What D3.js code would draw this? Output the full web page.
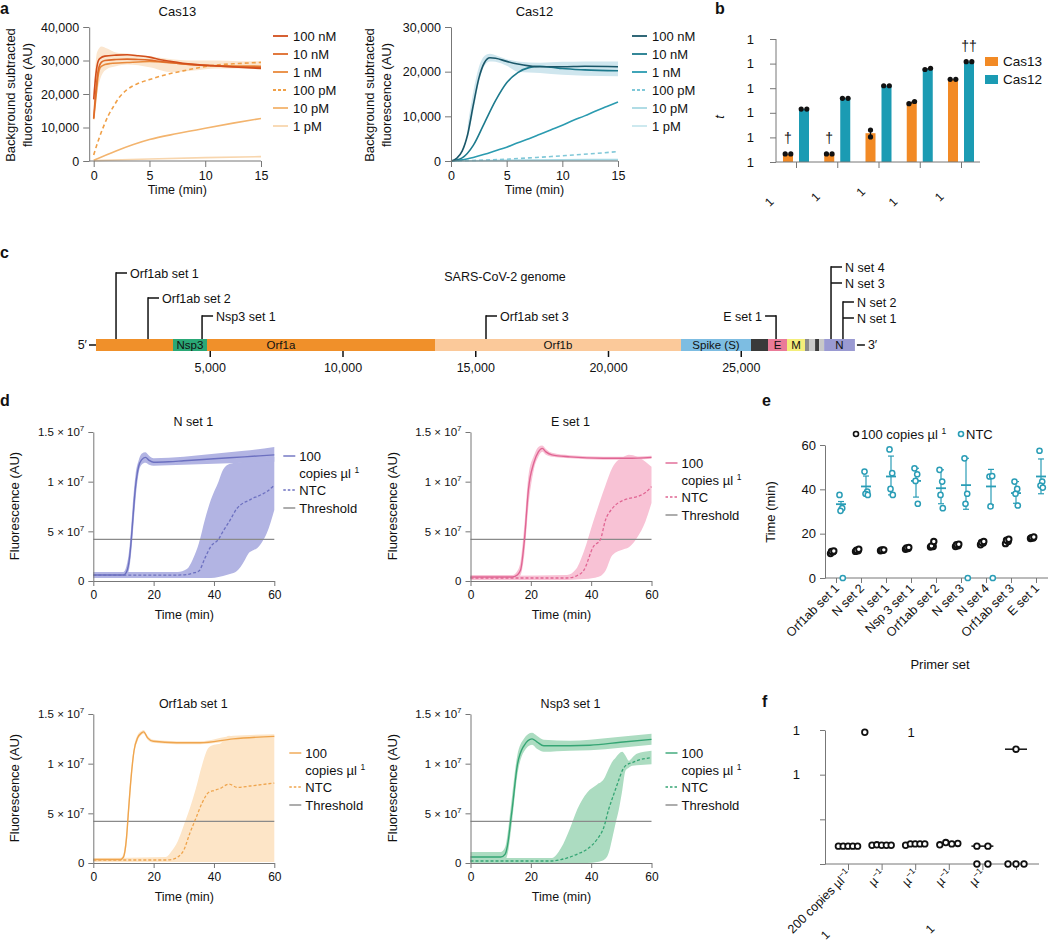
<!DOCTYPE html>
<html>
<head>
<meta charset="utf-8">
<script src="https://cdn.jsdelivr.net/npm/d3@7"></script>
<style>
  body { margin: 0; background: #fff; }
  svg text { font-family: "Liberation Sans", Arial, Helvetica, sans-serif; fill: #111; }
</style>
</head>
<body>
<svg id="fig" width="1050" height="945"></svg>
<script>
// ---------------- data ----------------
// panel a
const concLabels = ['100 nM', '10 nM', '1 nM', '100 pM', '10 pM', '1 pM']
const concDashed = [false, false, false, true, false, false]
const cas13Colors = ['#d24e1c', '#de6a2a', '#e98a3c', '#f0a048', '#f3b46e', '#f8d6ae']
const cas12Colors = ['#1a5769', '#1d7a8d', '#2b9bb0', '#80c8d8', '#a8d8e3', '#c8e7ee']

const cas13_100nM = [[0, 18400], [0.2, 26000], [0.4, 29800], [0.6, 30700], [1, 31300], [2, 31600], [3, 31700], [4, 31400], [5, 31000], [6, 30200], [7, 29700], [8, 29200], [9.5, 28700], [11, 28400], [13, 28000], [15, 27650]]
const cas13_10nM = [[0, 12800], [0.2, 21000], [0.4, 27000], [0.7, 29500], [1, 30000], [2, 30300], [3, 30400], [4, 30300], [5, 30100], [6, 29700], [8, 29000], [10, 28500], [12, 28200], [15, 28000]]
const cas13_1nM = [[0, 12500], [0.2, 19000], [0.4, 25500], [0.6, 28000], [1, 28800], [1.5, 29100], [3, 29400], [5, 29700], [6, 29600], [8, 29000], [10, 28600], [12, 28400], [15, 28300]]
const cas13_100pM = [[0, 1800], [0.4, 6000], [0.87, 10200], [1.3, 13500], [1.76, 16200], [2.3, 19000], [2.96, 21200], [4, 23200], [5.1, 24400], [6.5, 25800], [8, 26900], [9.5, 27900], [11, 28650], [13, 29100], [15, 29450]]
const cas13_10pM = [[0, 200], [2, 3000], [5, 6400], [7.5, 8200], [10, 9800], [12.5, 11300], [15, 12700]]
const cas13_1pM = [[0, 100], [5, 600], [10, 1000], [15, 1300]]
const cas13Band = [[0, 12000, 20000], [0.3, 20000, 32500], [0.7, 25500, 34200], [1.2, 27500, 33600], [2, 28300, 32400], [3, 28800, 32100], [5, 28000, 31300], [7, 26500, 30400], [9, 27000, 30000], [11, 27600, 30000], [13, 27600, 29800], [15, 27400, 29800]]

const cas12_100nM = [[0, 0], [0.5, 600], [1, 2200], [1.5, 6000], [2, 12500], [2.5, 18500], [3, 22000], [3.5, 23100], [4, 23000], [5, 22300], [6, 21700], [7, 21300], [8, 21100], [10, 21100], [12, 21200], [15, 21100]]
const cas12_10nM = [[0, 0], [1, 700], [2, 3500], [3, 8500], [4, 13500], [5, 17500], [6, 19800], [7, 20900], [8, 21200], [9, 21000], [10, 20700], [12, 20400], [15, 20200]]
const cas12_1nM = [[0, 0], [1, 250], [2, 800], [3, 1500], [4, 2300], [5, 3100], [6, 4100], [7, 5000], [8, 6000], [9, 7000], [10, 8000], [11, 9100], [12, 10100], [13, 11200], [14, 12200], [15, 13200]]
const cas12_100pM = [[0, 0], [3, 200], [5, 400], [7, 700], [9, 1000], [11, 1350], [13, 1700], [15, 2100]]
const cas12_10pM = [[0, 0], [5, 150], [10, 250], [15, 350]]
const cas12_1pM = [[0, 0], [15, 150]]
const cas12Band = [[1.5, 5000, 8000], [2, 11000, 15500], [2.5, 17500, 21000], [3, 21300, 23500], [3.5, 22300, 24000], [4, 22200, 23700], [5, 21300, 22800], [6, 20000, 22300], [8, 19700, 22000], [10, 19300, 22200], [12, 19100, 22300], [15, 19000, 22300]]

// panel b (log units)
const bYTicks = [0, 1, 2, 3, 4, 5]
const bCas13 = [0.33, 0.33, 1.17, 2.42, 3.36]
const bCas12 = [2.15, 2.59, 3.1, 3.78, 4.08]
const bCas13Reps = [[0.33, 0.33], [0.33, 0.33], [1.3, 1.02], [2.37, 2.46], [3.36, 3.36]]
const bCas12Reps = [[2.15, 2.15], [2.59, 2.59], [3.1, 3.1], [3.76, 3.81], [4.08, 4.08]]
const bDaggers = [['†', 0, 0], ['†', 1, 0], ['††', 4, 1]]

// panel c (nt)
const genomeTicks = [5000, 10000, 15000, 20000, 25000]
const genomeSegs = [
  ['', 715, 3616, '#f0902a'], ['Nsp3', 3616, 4896, '#2aa876'], ['', 4896, 13484, '#f0902a'],
  ['Orf1b', 13484, 22750, '#fbc99a'], ['Spike (S)', 22750, 25386, '#7dbde2'], ['', 25386, 26026, '#3a3a3a'],
  ['E', 26026, 26742, '#ea7b98'], ['M', 26742, 27420, '#f4ee7a'], ['', 27420, 27570, '#8a8a8a'],
  ['', 27570, 27800, '#c8c8c8'], ['', 27800, 27950, '#3a3a3a'], ['', 27950, 28140, '#c8c8c8'],
  ['N', 28140, 29300, '#9a9ad2']
]
const orf1aLabelAt = 7680
const primerSites = [
  ['Orf1ab set 1', 1470], ['Orf1ab set 2', 2675], ['Nsp3 set 1', 4710], ['Orf1ab set 3', 15405],
  ['E set 1', 26330], ['N set 4', 28400], ['N set 3', 28400], ['N set 2', 28850], ['N set 1', 28850]
]

// panel d (units of 1e6): [time, mean, low, high]
const dXTicks = [0, 20, 40, 60]
const dYTicks = [0, 5, 10, 15]
const dYTickText = ['0', '5 × 10', '1 × 10', '1.5 × 10']
const threshold = 4.2
const nSet1Pos = [[0, 0.6, 0.3, 0.9], [10, 0.6, 0.3, 0.9], [11, 0.9, 0.5, 1.5], [12, 2.3, 1.4, 3.4], [12.6, 4.2, 3, 5.6], [13, 5.8, 4.4, 7.3], [14, 9.5, 8.2, 10.7], [15, 11.5, 10.8, 12.1], [16, 12.2, 11.7, 12.8], [17.3, 12.45, 11.9, 12.95], [18.5, 12.15, 11.7, 12.6], [20, 11.95, 11.6, 12.35], [25, 12.0, 11.65, 12.4], [30, 12.1, 11.7, 12.5], [40, 12.3, 11.8, 12.8], [50, 12.5, 11.9, 13.1], [60, 12.7, 12.0, 13.5]]
const nSet1Ntc = [[0, 0.6, 0.3, 0.9], [28, 0.6, 0.3, 0.9], [31, 0.65, 0.3, 1.2], [33, 0.8, 0.3, 2.2], [35, 1.0, 0.3, 3.8], [37, 2.3, 0.3, 6.2], [39, 3.5, 0.3, 8.2], [41.5, 4.2, 0.4, 10], [43, 5.0, 0.5, 11.2], [45.3, 6.1, 0.7, 11.8], [47.6, 7.3, 1.0, 11.9], [50, 7.9, 2.0, 12.0], [51.5, 8.1, 2.8, 12.1], [53, 8.35, 3.1, 12.1], [54.3, 8.5, 3.3, 12.2], [56, 8.75, 3.95, 12.3], [57.5, 9.0, 4.8, 12.4], [60, 9.65, 7.15, 12.5]]
const eSet1Pos = [[0, 0.4, 0.2, 0.6], [14, 0.4, 0.2, 0.6], [15.5, 0.6, 0.3, 1.0], [16.6, 1.1, 0.6, 2], [17.9, 4.2, 2.8, 5.8], [19.2, 9.2, 7.5, 10.6], [21, 11.9, 11.2, 12.6], [22.5, 13.0, 12.5, 13.5], [23.8, 13.35, 13.0, 13.65], [25, 13.0, 12.7, 13.3], [27, 12.7, 12.5, 12.9], [33, 12.5, 12.35, 12.65], [44, 12.35, 12.2, 12.5], [52, 12.35, 12.2, 12.5], [60, 12.45, 12.3, 12.6]]
const eSet1Ntc = [[0, 0.3, 0.1, 0.5], [32, 0.3, 0.1, 0.6], [35, 0.5, 0.15, 1.2], [37.6, 1.1, 0.2, 3.0], [40.7, 3.45, 0.3, 6.0], [43.1, 4.2, 0.5, 8.2], [44.7, 6.1, 1.0, 9.6], [47, 7.3, 2.6, 11.4], [50.8, 8.15, 3.2, 12.5], [52.5, 8.3, 3.4, 12.7], [55.3, 8.5, 4.4, 12.5], [58, 8.9, 6.0, 12.0], [60, 9.5, 7.85, 11.5]]
const orf1Pos = [[0, 0.35, 0.2, 0.5], [9, 0.35, 0.2, 0.5], [10, 0.6, 0.4, 0.9], [11, 2.5, 1.8, 3.3], [11.7, 5.4, 4.5, 6.3], [12.5, 8.5, 7.8, 9.3], [13.5, 11.3, 10.9, 11.7], [14.7, 12.6, 12.3, 12.9], [16, 13.1, 12.9, 13.3], [16.7, 13.2, 13.0, 13.4], [18, 12.6, 12.4, 12.8], [19.9, 12.25, 12.1, 12.4], [27.6, 12.1, 11.95, 12.25], [35.4, 12.1, 11.95, 12.25], [46.4, 12.5, 12.3, 12.8], [60, 12.75, 12.6, 12.95]]
const orf1Ntc = [[0, 0.3, 0.1, 0.5], [24, 0.3, 0.1, 0.6], [26, 0.35, 0.1, 1.2], [28, 0.6, 0.1, 2.2], [30, 1.3, 0.1, 3.8], [32, 3.0, 0.1, 5.5], [34, 4.5, 0.1, 7.5], [36, 6.0, 0.1, 9.8], [38.2, 7.1, 0.1, 11.6], [40, 7.3, 0.1, 11.9], [42, 7.5, 0.1, 12.0], [45, 7.95, 0.1, 12.8], [47.7, 7.6, 0.1, 12.5], [52, 7.75, 0.1, 12.6], [56, 7.9, 0.1, 12.7], [60, 8.05, 0.1, 12.8]]
const nsp3Pos = [[0, 0.6, 0.1, 1.1], [10, 0.6, 0.1, 1.1], [11.5, 0.9, 0.3, 1.6], [12.5, 2.2, 1.2, 3.4], [13.3, 4.2, 3.0, 5.5], [13.8, 5.4, 4.2, 6.8], [15.5, 9.8, 8.8, 10.8], [17.7, 11.8, 11.2, 12.5], [20.4, 12.5, 11.9, 13.1], [22, 12.2, 11.5, 12.8], [24.3, 11.8, 11.2, 12.4], [33, 11.8, 11.3, 12.3], [39.6, 11.85, 11.35, 12.4], [49.7, 12.15, 11.6, 12.7], [60, 12.45, 11.9, 13.0]]
const nsp3Ntc = [[0, 0.2, 0.0, 0.5], [27, 0.2, 0.0, 0.5], [30, 0.35, 0.0, 1.5], [33, 0.6, 0.0, 3.5], [35.4, 0.9, 0.0, 5.4], [38.7, 1.4, 0.0, 7.1], [42, 2.4, 0.1, 7.9], [44.2, 3.6, 0.3, 8.45], [45.8, 5.4, 1.0, 9.5], [47, 6.5, 2.5, 10.2], [48.1, 7.45, 4.0, 10.6], [49.2, 8.4, 5.4, 11.0], [50.3, 9.3, 7.3, 11.2], [51.4, 9.8, 9.3, 10.8], [52.5, 10.0, 9.6, 10.3], [53.6, 10.1, 9.8, 10.6], [55.1, 10.3, 9.85, 11.0], [60, 10.6, 9.95, 11.3]]

// panel e
const eSets = ['Orf1ab set 1', 'N set 2', 'N set 1', 'Nsp 3 set 1', 'Orf1ab set 2', 'N set 3', 'N set 4', 'Orf1ab set 3', 'E set 1']
const eYTicks = [0, 20, 40, 60]
const ePos = [[11, 11.8, 12, 12.2], [12, 12.3, 12.5, 13], [12.3, 12.5, 12.6, 12.7], [13, 13.3, 13.6, 13.8], [14, 14.2, 14.5, 16.5], [14.2, 14.5, 15, 15.2], [15, 15.8, 16, 16.5], [15.5, 16.5, 17, 17.5], [17.8, 18, 18.2, 18.5]]
const eNtc = [[37.5, 31.5, 30.3, 0], [48, 39, 38, 37.5], [58, 47.3, 40.2, 37.5], [49.5, 46.8, 43.8, 33.5], [48.8, 43.5, 37.5, 31.5], [54, 38, 33.5, 0], [45.8, 46, 32.3, 0], [43.5, 40.2, 38, 32.7], [57.4, 43.5, 41.7, 40.8]]
const eNtcMean = [33.3, 41.3, 45.8, 43.8, 40.5, 41.9, 41.3, 38.3, 45.8]
const eNtcErr = [[31.5, 34.5], [38, 46], [37.5, 55], [36.5, 49.5], [33.5, 48.8], [31, 54], [33, 49], [33.7, 43.5], [38, 53.7]]

// panel f
const fYTicks = [0, 1, 2, 3]
const fYTickText = ['', '', '1', '1']
const fVals = [[0.4, 0.4, 0.4, 0.4, 0.4], [0.42, 0.43, 0.42, 0.42, 0.42], [0.42, 0.45, 0.45, 0.45, 0.45], [0.43, 0.48, 0.45, 0.46], [0.4, 0.4, 0, 0], [0, 0, 0, 2.57]]
const fOutliers = [[0, 2.95]]
const fMedians = [null, null, null, null, 0.4, 2.57]
const fLabels = ['200 copies µl', 'µ', 'µ', 'µ', 'µ', '']

// ---------------- drawing ----------------
const svg = d3.select('#fig')
const axisColor = '#777'

function styleAxis(g, size) {
  g.selectAll('path, line').attr('stroke', axisColor).attr('stroke-width', 1)
  g.selectAll('text').style('font-size', size + 'px').attr('fill', '#111')
}

function label(x, y, s, size, anchor, extra) {
  const t = svg.append('text').attr('x', x).attr('y', y).text(s)
    .style('font-size', size + 'px').attr('text-anchor', anchor || 'start')
  if (extra) extra(t)
  return t
}

function rotLabel(x, y, s, size) {
  return svg.append('text')
    .attr('transform', 'translate(' + x + ',' + y + ') rotate(-90)')
    .attr('text-anchor', 'middle').style('font-size', size + 'px').text(s)
}

// panel letters
;[['a', 0, 14], ['b', 715, 14], ['c', 0, 258], ['d', 0, 406], ['e', 762, 406], ['f', 762, 707]].forEach(function(p) {
  label(p[1], p[2], p[0], 16, 'start', t => t.style('font-weight', 'bold'))
})

// ---------- panel a ----------
function kinetics(o) {
  const x = d3.scaleLinear().domain([0, 15]).range([o.x0, o.x1])
  const y = d3.scaleLinear().domain([0, o.yMax]).range([161, 27])
  const g = svg.append('g')

  g.append('path').datum(o.band)
    .attr('d', d3.area().x(d => x(d[0])).y0(d => y(d[1])).y1(d => y(d[2])).curve(d3.curveMonotoneX))
    .attr('fill', o.bandColor)

  const line = d3.line().x(d => x(d[0])).y(d => y(d[1])).curve(d3.curveMonotoneX)
  for (let i = o.curves.length - 1; i >= 0; i--) {
    g.append('path').datum(o.curves[i]).attr('d', line)
      .attr('fill', 'none').attr('stroke', o.colors[i]).attr('stroke-width', 1.6)
      .attr('stroke-dasharray', concDashed[i] ? '4,3' : null)
  }

  const xa = g.append('g').attr('transform', 'translate(0,161)')
    .call(d3.axisBottom(x).tickValues([0, 5, 10, 15]).tickSize(6).tickSizeOuter(0).tickPadding(4))
  xa.select('.domain').attr('d', 'M' + (o.x0 - o.yOff) + ',0H' + o.x1)
  styleAxis(xa, 12.5)
  const ya = g.append('g').attr('transform', 'translate(' + (o.x0 - o.yOff) + ',0)')
    .call(d3.axisLeft(y).ticks(o.yMax / 10000).tickFormat(d3.format(',')).tickSize(6).tickSizeOuter(0).tickPadding(4))
  styleAxis(ya, 12.5)

  label((o.x0 + o.x1) / 2, 16, o.title, 13, 'middle')
  label((o.x0 + o.x1) / 2, 194, 'Time (min)', 12.5, 'middle')
  rotLabel(o.yLab, 95, 'Background subtracted', 13)
  rotLabel(o.yLab + 17, 95, 'fluorescence (AU)', 13)

  concLabels.forEach(function(c, i) {
    const ly = 36 + i * 18
    svg.append('line').attr('x1', o.legX).attr('x2', o.legX + 15).attr('y1', ly).attr('y2', ly)
      .attr('stroke', o.colors[i]).attr('stroke-width', 1.8)
      .attr('stroke-dasharray', concDashed[i] ? '3,2' : null)
    label(o.legX + 20, ly + 4.5, c, 13)
  })
}

kinetics({ x0: 93.7, x1: 261, yOff: 4.5, yMax: 40000, title: 'Cas13', yLab: 15, legX: 273,
  colors: cas13Colors, band: cas13Band, bandColor: '#fbe6cf',
  curves: [cas13_100nM, cas13_10nM, cas13_1nM, cas13_100pM, cas13_10pM, cas13_1pM] })
kinetics({ x0: 451, x1: 618, yOff: 0, yMax: 30000, title: 'Cas12', yLab: 374, legX: 632,
  colors: cas12Colors, band: cas12Band, bandColor: '#cfe6ee',
  curves: [cas12_100nM, cas12_10nM, cas12_1nM, cas12_100pM, cas12_10pM, cas12_1pM] })

// ---------- panel b ----------
{
  const groups = d3.range(bCas13.length)
  const x = d3.scalePoint().domain(groups).range([796, 961])
  const y = d3.scaleLinear().domain([0, 5]).range([162, 39])
  const g = svg.append('g')
  const series = [[bCas13, bCas13Reps, '#f28a25', -13], [bCas12, bCas12Reps, '#1b9bb3', 3]]

  series.forEach(function(s) {
    g.selectAll(null).data(groups).enter().append('rect')
      .attr('x', d => x(d) + s[3]).attr('width', 10)
      .attr('y', d => y(s[0][d])).attr('height', d => y(0) - y(s[0][d]))
      .attr('fill', s[2])
    g.selectAll(null).data(groups).enter().append('line')
      .attr('x1', d => x(d) + s[3] + 5).attr('x2', d => x(d) + s[3] + 5)
      .attr('y1', d => y(d3.min(s[1][d]))).attr('y2', d => y(d3.max(s[1][d])))
      .attr('stroke', '#111').attr('stroke-width', 1.2)
    groups.forEach(function(d) {
      const reps = s[1][d]
      const side = Math.abs(reps[0] - reps[1]) < 0.15
      g.selectAll(null).data(reps).enter().append('circle')
        .attr('cx', (v, j) => x(d) + s[3] + 5 + (side ? (j ? 2.8 : -2.8) : 0))
        .attr('cy', v => y(v)).attr('r', 2.6).attr('fill', '#111')
    })
  })

  bDaggers.forEach(function(dg) {
    const s = series[dg[2]]
    label(x(dg[1]) + s[3] + 5, y(s[0][dg[1]]) - 11, dg[0], 14, 'middle')
  })

  const ya = g.append('g').attr('transform', 'translate(776,0)')
    .call(d3.axisLeft(y).tickValues(bYTicks).tickFormat(() => '1').tickSize(6).tickSizeOuter(0).tickPadding(16))
  styleAxis(ya, 13)
  ya.select('.domain').attr('d', 'M0,' + y(5) + 'V' + y(0))
  const xa = g.append('g').attr('transform', 'translate(0,162)')
    .call(d3.axisBottom(x).tickFormat('').tickSize(6).tickSizeOuter(0))
  xa.select('.domain').attr('d', 'M776,0H980')
  styleAxis(xa, 12)

  svg.append('text').attr('transform', 'translate(724,117) rotate(-90)')
    .attr('text-anchor', 'middle').style('font-size', '13px').style('font-style', 'italic').text('t')

  const bLabelShift = [[-24, 43], [-19, 38], [-15, 33], [-24, 43], [-19, 38]]
  groups.forEach(function(d) {
    svg.append('text')
      .attr('transform', 'translate(' + (x(d) + bLabelShift[d][0]) + ',' + (162 + bLabelShift[d][1]) + ') rotate(-45)')
      .attr('text-anchor', 'middle').style('font-size', '12px').text('1')
  })

  ;[['Cas13', '#f28a25'], ['Cas12', '#1b9bb3']].forEach(function(l, i) {
    svg.append('rect').attr('x', 985).attr('y', 57 + i * 18).attr('width', 13).attr('height', 9).attr('fill', l[1])
    label(1003, 66 + i * 18, l[0], 13.5)
  })
}

// ---------- panel c ----------
{
  const x = d3.scaleLinear().domain([0, 30000]).range([77, 873.5])
  const top = 339, h = 12
  const g = svg.append('g')

  g.selectAll(null).data(genomeSegs).enter().append('rect')
    .attr('x', d => x(d[1])).attr('width', d => x(d[2]) - x(d[1]))
    .attr('y', top).attr('height', h).attr('fill', d => d[3])
  g.selectAll(null).data(genomeSegs.filter(d => d[0])).enter().append('text')
    .attr('x', d => x((d[1] + d[2]) / 2)).attr('y', top + 10)
    .attr('text-anchor', 'middle').style('font-size', '11.5px').text(d => d[0])
  label(x(orf1aLabelAt), top + 10, 'Orf1a', 11.5, 'middle')

  const xa = g.append('g').attr('transform', 'translate(0,' + (top + h) + ')')
    .call(d3.axisBottom(x).tickValues(genomeTicks).tickFormat(d3.format(',')).tickSize(6).tickPadding(6))
  xa.select('.domain').remove()
  xa.selectAll('line').attr('stroke', '#111').attr('stroke-width', 1.5)
  xa.selectAll('text').style('font-size', '12.5px').attr('fill', '#111')

  const first = genomeSegs[0][1], last = genomeSegs[genomeSegs.length - 1][2]
  g.append('line').attr('x1', x(first) - 7).attr('x2', x(first)).attr('y1', top + 6).attr('y2', top + 6).attr('stroke', '#111').attr('stroke-width', 1.5)
  label(x(first) - 9, top + 10, '5′', 12.5, 'end')
  g.append('line').attr('x1', x(last) + 2).attr('x2', x(last) + 10).attr('y1', top + 6).attr('y2', top + 6).attr('stroke', '#111').attr('stroke-width', 1.5)
  label(x(last) + 13, top + 10, '3′', 12.5, 'start')

  label(505, 281, 'SARS-CoV-2 genome', 12.5, 'middle')

  // callout rise above the bar and side of the label
  const callout = [[66, 1], [41, 1], [23, 1], [23, 1], [23, -1], [72, 1], [56, 1], [37, 1], [21, 1]]
  const stems = {}
  primerSites.forEach(function(p, i) {
    const cx = x(p[1]), rise = callout[i][0], side = callout[i][1]
    const ly = top - rise
    stems[cx] = Math.max(stems[cx] || 0, rise)
    g.append('line').attr('x1', cx).attr('x2', cx + side * 11).attr('y1', ly).attr('y2', ly)
      .attr('stroke', '#111').attr('stroke-width', 1.5)
    label(cx + side * 14, ly + 4.5, p[0], 12.5, side > 0 ? 'start' : 'end')
  })
  Object.keys(stems).forEach(function(cx) {
    g.append('line').attr('x1', +cx).attr('x2', +cx).attr('y1', top).attr('y2', top - stems[cx] - 0.75)
      .attr('stroke', '#111').attr('stroke-width', 1.5)
  })
}

// ---------- panel d ----------
function supText(sel, base, sup, supSize) {
  sel.text(null)
  sel.append('tspan').text(base)
  if (sup) sel.append('tspan').attr('dy', -5).style('font-size', supSize + 'px').text(sup)
}

function qpcr(o) {
  const x = d3.scaleLinear().domain([0, 60]).range([o.x0, o.x0 + 181])
  const y = d3.scaleLinear().domain([0, 15]).range([o.yb, o.yb - 149])
  const g = svg.append('g')
  const area = d3.area().x(d => x(d[0])).y0(d => y(d[2])).y1(d => y(d[3])).curve(d3.curveMonotoneX)
  const line = d3.line().x(d => x(d[0])).y(d => y(d[1])).curve(d3.curveMonotoneX)

  g.append('path').datum(o.ntc).attr('d', area).attr('fill', o.band)
  g.append('path').datum(o.pos).attr('d', area).attr('fill', o.band)
  g.append('line').attr('x1', x(0)).attr('x2', x(60)).attr('y1', y(threshold)).attr('y2', y(threshold))
    .attr('stroke', '#8a8a8a').attr('stroke-width', 1.2)
  g.append('path').datum(o.ntc).attr('d', line).attr('fill', 'none')
    .attr('stroke', o.color).attr('stroke-width', 1.3).attr('stroke-dasharray', '3,2')
  g.append('path').datum(o.pos).attr('d', line).attr('fill', 'none')
    .attr('stroke', o.color).attr('stroke-width', 1.4)

  const xa = g.append('g').attr('transform', 'translate(0,' + o.yb + ')')
    .call(d3.axisBottom(x).tickValues(dXTicks).tickSize(5).tickSizeOuter(0).tickPadding(4))
  styleAxis(xa, 12)
  const ya = g.append('g').attr('transform', 'translate(' + o.x0 + ',0)')
    .call(d3.axisLeft(y).tickValues(dYTicks).tickSize(5).tickSizeOuter(0).tickPadding(4))
  styleAxis(ya, 11.5)
  ya.selectAll('.tick text').each(function(d, i) {
    supText(d3.select(this), dYTickText[i], d ? '7' : '', 8)
  })

  label(o.x0 + 100, o.yb - 155, o.title, 12.5, 'middle')
  label(o.x0 + 91, o.yb + 38, 'Time (min)', 12.5, 'middle')
  rotLabel(o.x0 - 74, o.yb - 75, 'Fluorescence (AU)', 13)

  const lx = o.x0 + o.legDx, ty = o.legY
  const rows = [[ty, false, o.color], [ty + 34, true, o.color], [ty + 52, false, '#8a8a8a']]
  rows.forEach(function(r) {
    svg.append('line').attr('x1', lx).attr('x2', lx + 12).attr('y1', r[0]).attr('y2', r[0])
      .attr('stroke', r[2]).attr('stroke-width', 1.4).attr('stroke-dasharray', r[1] ? '2.5,2' : null)
  })
  label(lx + 16, ty + 4.5, '100', 13)
  label(lx + 16, ty + 21.5, '', 13, 'start', t => supText(t, 'copies µl ', '1', 8.5))
  label(lx + 16, ty + 38.5, 'NTC', 13)
  label(lx + 16, ty + 56.5, 'Threshold', 13)
}

qpcr({ x0: 93.3, yb: 581, title: 'N set 1', color: '#6c70c0', band: '#b2b4e3', pos: nSet1Pos, ntc: nSet1Ntc, legDx: 190, legY: 456 })
qpcr({ x0: 470.5, yb: 581, title: 'E set 1', color: '#e06593', band: '#f8c2d5', pos: eSet1Pos, ntc: eSet1Ntc, legDx: 195, legY: 463 })
qpcr({ x0: 93.3, yb: 863, title: 'Orf1ab set 1', color: '#efa54e', band: '#fde5c7', pos: orf1Pos, ntc: orf1Ntc, legDx: 196, legY: 753 })
qpcr({ x0: 470.5, yb: 863, title: 'Nsp3 set 1', color: '#35a574', band: '#acdcc1', pos: nsp3Pos, ntc: nsp3Ntc, legDx: 195, legY: 753 })

// ---------- panel e ----------
{
  const x = d3.scalePoint().domain(eSets).range([836, 1036])
  const y = d3.scaleLinear().domain([0, 60]).range([578, 445])
  const g = svg.append('g')
  const cyan = '#2a9db6'

  const ya = g.append('g').attr('transform', 'translate(825,0)')
    .call(d3.axisLeft(y).tickValues(eYTicks).tickSize(5).tickSizeOuter(0).tickPadding(4))
  styleAxis(ya, 13)
  const xa = g.append('g').attr('transform', 'translate(0,578)')
    .call(d3.axisBottom(x).tickSize(5).tickSizeOuter(0).tickFormat(''))
  xa.select('.domain').attr('d', 'M825,0H1048')
  styleAxis(xa, 12)

  const jit = [-1.5, 1.2, -0.5, 1.8]
  eSets.forEach(function(s, i) {
    const cx = x(s)
    // error bar and mean for NTC
    g.append('line').attr('x1', cx + 5).attr('x2', cx + 5).attr('y1', y(eNtcErr[i][0])).attr('y2', y(eNtcErr[i][1]))
      .attr('stroke', cyan).attr('stroke-width', 1.2)
    eNtcErr[i].forEach(function(v) {
      g.append('line').attr('x1', cx + 2).attr('x2', cx + 8).attr('y1', y(v)).attr('y2', y(v)).attr('stroke', cyan).attr('stroke-width', 1.2)
    })
    g.append('line').attr('x1', cx).attr('x2', cx + 10).attr('y1', y(eNtcMean[i])).attr('y2', y(eNtcMean[i]))
      .attr('stroke', cyan).attr('stroke-width', 1.8)
    g.selectAll(null).data(eNtc[i]).enter().append('circle')
      .attr('cx', (v, j) => cx + 5 + jit[j]).attr('cy', v => y(v)).attr('r', 2.6)
      .attr('fill', '#fff').attr('stroke', cyan).attr('stroke-width', 1.5)
    g.selectAll(null).data(ePos[i]).enter().append('circle')
      .attr('cx', (v, j) => cx - 4 + jit[j]).attr('cy', v => y(v)).attr('r', 2.7)
      .attr('fill', '#fff').attr('stroke', '#111').attr('stroke-width', 2)
    svg.append('text').attr('transform', 'translate(' + (cx + 4) + ',589) rotate(-45)')
      .attr('text-anchor', 'end').style('font-size', '12.5px').text(s)
  })

  label(940, 669, 'Primer set', 13, 'middle')
  rotLabel(775, 512, 'Time (min)', 13)

  svg.append('circle').attr('cx', 856).attr('cy', 434).attr('r', 2.5).attr('fill', '#fff').attr('stroke', '#111').attr('stroke-width', 1.6)
  label(861, 439, '', 13, 'start', t => supText(t, '100 copies µl ', '1', 8.5))
  svg.append('circle').attr('cx', 961).attr('cy', 434).attr('r', 2.5).attr('fill', '#fff').attr('stroke', cyan).attr('stroke-width', 1.6)
  label(966, 439, 'NTC', 13)
}

// ---------- panel f ----------
{
  const groups = d3.range(fVals.length)
  const x = d3.scalePoint().domain(groups).range([848, 1016])
  const y = d3.scaleLinear().domain([0, 3]).range([864, 730])
  const g = svg.append('g')

  const ya = g.append('g').attr('transform', 'translate(825,0)')
    .call(d3.axisLeft(y).tickValues(fYTicks).tickFormat((d, i) => fYTickText[i]).tickSize(5).tickSizeOuter(0).tickPadding(20))
  styleAxis(ya, 13)
  const xa = g.append('g').attr('transform', 'translate(0,864)')
    .call(d3.axisBottom(x).tickFormat('').tickSize(6).tickSizeOuter(0))
  xa.select('.domain').attr('d', 'M825,0H1039')
  styleAxis(xa, 12)

  groups.forEach(function(gi) {
    const cx = x(gi)
    if (fMedians[gi] !== null) {
      g.append('line').attr('x1', cx - 11).attr('x2', cx + 11).attr('y1', y(fMedians[gi])).attr('y2', y(fMedians[gi]))
        .attr('stroke', '#111').attr('stroke-width', 1.5)
    }
    // dodge points that share a level
    const levels = d3.groups(fVals[gi], v => Math.round(v * 4))
    levels.forEach(function(lv) {
      const k = lv[1].length, step = Math.min(11, 24 / k)
      g.selectAll(null).data(lv[1]).enter().append('circle')
        .attr('cx', (v, j) => cx + (j - (k - 1) / 2) * step).attr('cy', v => y(v)).attr('r', 2.8)
        .attr('fill', '#fff').attr('stroke', '#111').attr('stroke-width', 1.8)
    })
  })
  fOutliers.forEach(function(o) {
    g.append('circle').attr('cx', x(o[0]) + x.step() / 2).attr('cy', y(o[1])).attr('r', 2.8)
      .attr('fill', '#fff').attr('stroke', '#111').attr('stroke-width', 1.8)
  })
  label(911, 737, '1', 13, 'middle')

  fLabels.forEach(function(s, i) {
    if (!s) return
    const t = svg.append('text').attr('transform', 'translate(' + (x(i) + 4) + ',875) rotate(-45)')
      .attr('text-anchor', 'end').style('font-size', '12.5px')
    supText(t, s, '−1', 8.5)
  })
  ;[[x(0) - 20, 938], [x(3) - 16, 932]].forEach(function(p) {
    svg.append('text').attr('transform', 'translate(' + p[0] + ',' + p[1] + ') rotate(-45)')
      .attr('text-anchor', 'middle').style('font-size', '12px').text('1')
  })
}
</script>
</body>
</html>
